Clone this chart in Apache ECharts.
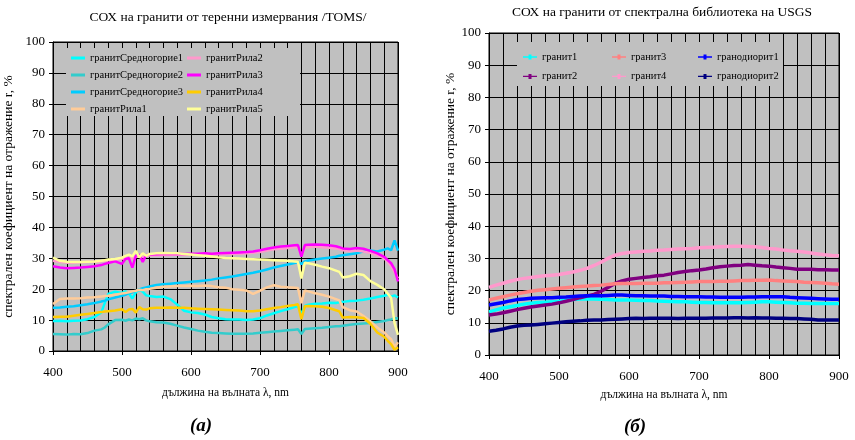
<!DOCTYPE html>
<html>
<head>
<meta charset="utf-8">
<script src="https://cdn.jsdelivr.net/npm/echarts@6/dist/echarts.min.js"></script>
<style>
  html, body { margin: 0; padding: 0; background: #ffffff; }
  #chart { width: 855px; height: 440px; }
</style>
</head>
<body>
<div id="chart"></div>
<script>
// ---- (а) field measurements, TOMS ----
const wlField = [400,410,420,430,440,450,460,470,475,480,490,500,505,510,515,520,525,530,535,540,
  550,560,570,580,590,600,610,620,630,640,650,660,670,680,690,700,710,720,730,740,750,755,760,765,
  770,780,790,800,810,815,820,830,840,850,860,870,880,885,890,895,900];

const sredno1 = [9.7,9.8,9.6,9.8,9.9,10.3,11.0,12.5,15.5,18.5,19.2,18.8,19.3,18.6,17.0,19.0,19.8,19.2,18.0,17.8,
  17.5,17.6,16.8,15.0,13.0,12.5,12.3,11.8,11.0,10.6,10.3,10.2,10.2,10.0,10.2,10.6,11.5,12.2,12.9,13.5,14.2,14.5,12.0,14.6,
  15.0,15.3,15.4,15.6,15.5,15.8,15.9,16.2,16.3,16.6,17.0,17.5,17.9,18.2,17.6,18.0,17.3];
const sredno2 = [5.5,5.4,5.3,5.5,5.4,5.8,6.6,7.0,7.6,8.6,10.0,10.1,9.8,10.2,9.9,10.5,10.3,10.6,9.9,9.6,
  9.3,9.2,8.8,8.2,7.6,7.1,6.6,6.2,5.9,5.8,5.7,5.6,5.6,5.6,5.7,5.9,6.1,6.3,6.5,6.7,6.9,7.0,5.5,7.1,
  7.2,7.4,7.5,7.8,8.0,8.0,8.2,8.5,8.7,8.9,9.1,9.4,9.7,10.0,10.2,10.6,10.5];
const sredno3 = [14.0,14.1,14.3,14.5,14.8,15.1,15.5,16.0,16.3,16.7,17.3,17.9,18.2,18.7,19.0,19.4,19.9,20.3,20.6,20.9,
  21.4,21.6,21.8,22.0,22.2,22.4,22.6,22.8,23.1,23.5,23.8,24.1,24.5,24.9,25.3,25.8,26.4,27.0,27.5,28.0,28.5,28.8,28.2,29.0,
  29.3,29.6,29.9,30.2,30.5,30.8,31.0,31.3,31.6,32.3,32.5,32.2,32.8,33.2,32.6,35.8,32.5];
const rila1 = [15.2,16.8,17.0,17.0,17.1,17.3,17.4,17.6,17.8,17.9,18.2,18.6,18.8,19.0,19.3,19.5,19.8,19.7,20.0,20.1,
  20.5,20.8,20.9,21.0,21.0,21.1,21.0,21.2,21.0,20.6,20.5,20.0,19.8,19.6,18.5,19.5,20.6,21.3,20.8,20.6,20.5,20.4,15.5,19.6,
  19.3,18.7,18.2,17.6,16.8,16.4,14.2,13.2,12.8,11.3,9.6,7.6,6.0,4.8,3.8,1.3,2.8];
const rila2 = [29.2,28.8,28.6,28.6,28.7,28.8,28.9,29.0,29.2,29.4,29.6,29.8,30.0,30.2,29.8,30.5,30.6,30.4,30.8,30.9,
  31.0,31.1,31.1,31.2,31.1,31.2,31.2,31.3,31.3,31.3,31.3,31.4,31.5,31.6,31.8,32.0,32.5,32.9,33.1,33.3,33.6,33.7,31.0,33.5,
  33.6,33.8,33.6,33.4,33.2,33.0,32.6,32.4,32.5,32.2,31.8,31.0,30.0,28.8,27.5,25.5,23.5];
const rila3 = [27.4,27.0,26.8,26.9,27.0,27.2,27.4,27.8,28.2,28.5,29.0,28.2,29.8,30.0,27.0,30.8,31.2,28.8,31.0,31.2,
  31.3,31.4,31.4,31.5,31.4,31.5,31.5,31.6,31.5,31.6,31.7,31.8,31.9,32.0,32.2,32.6,33.1,33.5,33.8,34.0,34.2,34.3,30.5,34.3,
  34.4,34.5,34.4,34.2,33.9,33.6,33.2,33.0,33.3,33.1,32.4,31.6,30.5,29.4,28.4,26.5,22.5];
const rila4 = [11.0,11.1,11.1,11.4,11.7,12.0,12.3,12.6,12.8,12.9,13.1,13.5,12.6,13.4,13.6,12.4,14.2,13.5,13.4,13.8,
  14.0,14.0,14.1,14.0,14.0,13.8,13.7,13.6,13.5,13.4,13.3,13.2,13.1,12.9,12.9,13.1,13.5,13.9,14.2,14.6,14.9,15.1,10.3,14.5,
  14.6,14.5,14.3,13.9,13.2,12.8,10.8,11.0,10.9,10.7,8.8,6.0,4.6,3.3,2.2,0.4,1.2];
const rila5 = [30.2,29.2,28.9,28.8,28.8,28.9,29.0,29.2,29.4,29.6,29.8,30.2,30.8,31.2,30.6,32.4,30.3,31.6,30.8,31.4,
  31.6,31.7,31.6,31.6,31.4,31.2,31.0,30.8,30.6,30.3,30.1,30.0,29.9,29.8,29.7,29.6,29.5,29.4,29.3,29.2,29.0,28.9,23.5,28.6,
  28.4,27.9,27.3,26.8,26.0,25.6,23.8,24.2,25.0,24.6,22.6,21.4,20.0,18.6,17.2,9.0,5.2];

const fieldNames = ['гранитСредногорие1','гранитСредногорие2','гранитСредногорие3','гранитРила1',
  'гранитРила2','гранитРила3','гранитРила4','гранитРила5'];
const fieldValues = [sredno1, sredno2, sredno3, rila1, rila2, rila3, rila4, rila5];
const fieldColors = ['#00FFFF','#33CCCC','#00CCFF','#FFCC99','#FF99CC','#FF00FF','#FFCC00','#FFFF99'];

// ---- (б) USGS spectral library ----
const wlLib = [400,410,420,430,440,450,460,470,480,490,500,510,520,530,540,550,560,570,580,590,600,
  610,620,630,640,650,660,670,680,690,700,710,720,730,740,750,760,770,780,790,800,
  810,820,830,840,850,860,870,880,890,900];

const granite1 = [13.4,14.0,14.6,15.0,15.4,15.8,16.1,16.3,16.4,16.5,16.7,17.0,17.2,17.4,17.5,17.4,17.3,17.2,17.1,17.1,17.1,
  17.0,16.9,16.9,16.8,16.7,16.6,16.5,16.5,16.4,16.3,16.3,16.2,16.2,16.2,16.2,16.2,16.3,16.4,16.5,16.5,
  16.4,16.3,16.2,16.1,16.1,16.0,16.0,16.0,16.0,16.0];
const granite2 = [12.4,12.7,13.1,13.6,14.1,14.5,14.9,15.2,15.5,15.8,16.2,16.7,17.2,17.8,18.3,18.8,19.8,21.0,22.2,23.0,23.5,
  23.8,24.1,24.3,24.6,24.8,25.2,25.6,25.9,26.2,26.4,26.7,27.1,27.4,27.6,27.8,27.9,28.1,27.9,27.7,27.6,
  27.3,27.1,26.9,26.6,26.6,26.6,26.5,26.5,26.4,26.4];
const granite3 = [17.1,17.6,18.1,18.6,19.0,19.4,19.8,20.1,20.3,20.5,20.7,20.9,21.1,21.3,21.4,21.6,21.7,21.9,22.1,22.2,22.2,
  22.2,22.3,22.3,22.3,22.4,22.4,22.5,22.6,22.7,22.8,22.8,22.8,22.9,22.9,23.0,23.1,23.1,23.2,23.2,23.3,
  23.1,23.0,22.9,22.8,22.6,22.5,22.4,22.3,22.1,22.0];
const granite4 = [21.0,21.7,22.3,22.9,23.4,23.8,24.1,24.4,24.6,24.8,25.0,25.4,25.8,26.3,26.9,27.8,28.8,30.0,31.0,31.5,31.8,
  32.0,32.2,32.3,32.5,32.6,32.8,32.9,33.0,33.1,33.3,33.4,33.5,33.6,33.7,33.8,33.8,33.7,33.6,33.4,33.1,
  32.9,32.6,32.4,32.2,32.0,31.7,31.4,31.1,30.9,30.8];
const granodiorite1 = [15.5,15.9,16.3,16.8,17.2,17.4,17.6,17.7,17.8,17.8,17.9,18.0,18.2,18.3,18.4,18.4,18.4,18.5,18.6,18.6,18.5,
  18.4,18.4,18.3,18.3,18.3,18.2,18.2,18.1,18.1,18.1,18.0,18.0,17.9,17.9,17.9,17.9,18.0,18.0,18.1,18.1,
  18.1,18.1,17.9,17.8,17.7,17.6,17.5,17.4,17.3,17.3];
const granodiorite2 = [7.4,7.7,8.1,8.6,9.0,9.2,9.3,9.5,9.7,9.9,10.1,10.3,10.5,10.6,10.8,10.9,10.9,11.0,11.1,11.2,11.3,
  11.4,11.3,11.4,11.4,11.4,11.4,11.3,11.4,11.4,11.4,11.4,11.5,11.5,11.5,11.6,11.6,11.5,11.6,11.5,11.5,
  11.4,11.4,11.3,11.3,11.2,11.1,10.9,10.9,10.9,10.9];

const libNames = ['гранит1','гранит2','гранит3','гранит4','гранодиорит1','гранодиорит2'];
const libValues = [granite1, granite2, granite3, granite4, granodiorite1, granodiorite2];
const libColors = ['#00FFFF','#800080','#FF8080','#FF99CC','#0000FF','#000080'];

// ---- axis ticks ----
const xGridStep = 20;                       // vertical grid lines
const xLabelStep = 100;                     // labelled ticks
const xLabelValues = [400,500,600,700,800,900];
const yTicks = { min: 0, max: 100, step: 10 };

const SERIF = 'Liberation Serif, Times New Roman, serif';
const PLOT_BG = '#C0C0C0';

function pairs(xs, ys) { return xs.map((x, i) => [x, ys[i]]); }

const xMin = xLabelValues[0], xMax = xLabelValues[xLabelValues.length - 1];

// main x axis: grid lines every 20 nm, labels every 100 nm
function xAxisFor(gridIndex, nameGap) {
  return {
    gridIndex, type: 'value', position: 'bottom', min: xMin, max: xMax, interval: xGridStep,
    name: 'дължина на вълната λ, nm', nameLocation: 'middle', nameGap,
    nameTextStyle: { fontFamily: SERIF, fontSize: 11.5, color: '#000' },
    axisLine: { show: true, onZero: false, lineStyle: { color: '#000', width: 1 } },
    axisTick: { show: false },
    axisLabel: { fontFamily: SERIF, fontSize: 13, color: '#000', margin: 15, customValues: xLabelValues },
    splitLine: { show: true, lineStyle: { color: '#000', width: 1 } }
  };
}
// companion axis that only carries the outward tick marks at the labelled values
function xTickAxisFor(gridIndex) {
  return {
    gridIndex, type: 'value', position: 'bottom', min: xMin, max: xMax, interval: xLabelStep,
    axisLine: { show: false, onZero: false },
    axisTick: { show: true, inside: false, length: 4, lineStyle: { color: '#000' } },
    axisLabel: { show: false }, splitLine: { show: false }
  };
}
function yAxisFor(gridIndex, nameGap) {
  return {
    gridIndex, type: 'value', min: yTicks.min, max: yTicks.max, interval: yTicks.step,
    name: 'спектрален коефициент на отражение r, %', nameLocation: 'middle', nameGap,
    nameTextStyle: { fontFamily: SERIF, fontSize: 13.5, color: '#000' },
    axisLine: { show: true, lineStyle: { color: '#000', width: 1 } },
    axisTick: { show: true, inside: false, length: 4, lineStyle: { color: '#000' } },
    axisLabel: { fontFamily: SERIF, fontSize: 13, color: '#000', margin: 8 },
    splitLine: { show: true, lineStyle: { color: '#000', width: 1 } }
  };
}

const series = [];
fieldNames.forEach((name, i) => {
  series.push({
    name, type: 'line', xAxisIndex: 0, yAxisIndex: 0, showSymbol: false, symbol: 'none',
    color: fieldColors[i], lineStyle: { width: 2.5, color: fieldColors[i] },
    data: pairs(wlField, fieldValues[i]), silent: true, z: 3
  });
});
libNames.forEach((name, i) => {
  series.push({
    name, type: 'line', xAxisIndex: 1, yAxisIndex: 1, showSymbol: false, symbol: 'none',
    color: libColors[i], lineStyle: { width: 3.5, color: libColors[i] },
    data: pairs(wlLib, libValues[i]), silent: true, z: 3
  });
});

const legendText = { fontFamily: SERIF, fontSize: 10.5, color: '#000', lineHeight: 14 };
const lineMarkIcon = 'path://M0,2.3H14V3.7H0Z M5.5,0.5H8.5V5.5H5.5Z';
function legendCol(names, left, top, gap, icon, iw, ih) {
  return {
    data: names, orient: 'vertical', left, top, itemGap: gap, itemWidth: iw, itemHeight: ih,
    icon, selectedMode: false, padding: 0, textStyle: legendText, z: 5
  };
}

const option = {
  animation: false,
  backgroundColor: '#ffffff',
  grid: [
    { left: 52, top: 42, width: 346, height: 309, show: true, backgroundColor: PLOT_BG, borderColor: '#000', borderWidth: 1 },
    { left: 489, top: 33, width: 350, height: 322, show: true, backgroundColor: PLOT_BG, borderColor: '#000', borderWidth: 1 }
  ],
  xAxis: [xAxisFor(0, 36), xAxisFor(1, 34), xTickAxisFor(0), xTickAxisFor(1)],
  yAxis: [yAxisFor(0, 38), yAxisFor(1, 31)],
  legend: [
    legendCol(fieldNames.slice(0, 4), 71, 51, 3, 'rect', 14, 3),
    legendCol(fieldNames.slice(4), 187, 51, 3, 'rect', 14, 3),
    legendCol([libNames[0], libNames[1]], 523, 50, 5.4, lineMarkIcon, 14, 6),
    legendCol([libNames[2], libNames[3]], 612, 50, 5.4, lineMarkIcon, 14, 6),
    legendCol([libNames[4], libNames[5]], 698, 50, 5.4, lineMarkIcon, 14, 6)
  ],
  graphic: [
    // legend panels sit on the plot area and hide the grid behind them
    { type: 'rect', shape: { x: 66, y: 48, width: 234, height: 68 }, style: { fill: PLOT_BG }, z: 1, silent: true },
    { type: 'rect', shape: { x: 517, y: 42, width: 266, height: 44 }, style: { fill: PLOT_BG }, z: 1, silent: true },
    { type: 'text', x: 228, y: 17, silent: true,
      style: { text: 'СОХ на гранити от теренни измервания /TOMS/', font: '13.5px ' + SERIF, fill: '#000', textAlign: 'center', textVerticalAlign: 'middle' } },
    { type: 'text', x: 662, y: 12, silent: true,
      style: { text: 'СОХ на гранити от спектрална библиотека на USGS', font: '13.5px ' + SERIF, fill: '#000', textAlign: 'center', textVerticalAlign: 'middle' } },
    { type: 'text', x: 201, y: 426, silent: true,
      style: { text: '(а)', font: 'italic bold 19px ' + SERIF, fill: '#000', textAlign: 'center', textVerticalAlign: 'middle' } },
    { type: 'text', x: 635, y: 427, silent: true,
      style: { text: '(б)', font: 'italic bold 19px ' + SERIF, fill: '#000', textAlign: 'center', textVerticalAlign: 'middle' } }
  ],
  series
};

const chart = echarts.init(document.getElementById('chart'), null, { renderer: 'canvas' });
chart.setOption(option);
</script>
</body>
</html>
